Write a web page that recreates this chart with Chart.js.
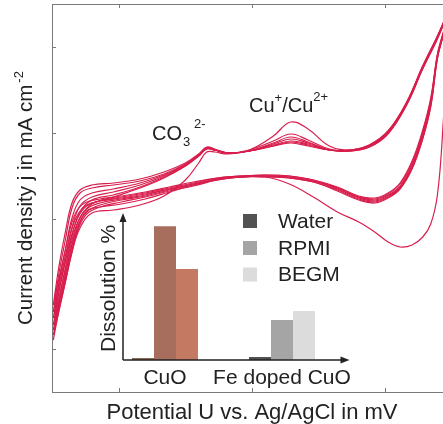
<!DOCTYPE html>
<html>
<head>
<meta charset="utf-8">
<script src="https://cdn.jsdelivr.net/npm/chart.js@4.4.1/dist/chart.umd.min.js"></script>
<style>
  html, body { margin: 0; padding: 0; background: #fff; overflow: hidden; }
  #wrap { position: relative; width: 443px; height: 424px; }
  #cv { position: absolute; left: 0; top: 0; }
  #inset { position: absolute; left: 90px; top: 205px; }
</style>
</head>
<body>
<div id="wrap">
  <canvas id="cv" width="443" height="424"></canvas>
  <canvas id="inset" width="275" height="190"></canvas>
</div>
<script>
// potential sweep in mV (anodic to the right vertex, then back)
var potential = [-745,-725,-700,-675,-645,-600,-520,-420,-330,-250,-200,-170,-140,-90,-10,80,145,210,290,370,440,510,580,640,690,735,
                 715,695,670,640,600,555,510,460,400,320,230,140,50,-40,-130,-220,-310,-400,-490,-570,-620,-650,-675,-700,-725,-745];

// current density j, one array per cycle
var cycle1 = [-1.21,-0.93,-0.63,-0.33,-0.09,0.06,0.09,0.14,0.23,0.39,0.56,0.67,0.67,0.65,0.69,0.83,0.97,0.90,0.73,0.69,0.73,0.86,1.15,1.51,1.78,2.04,
              0.89,0.24,-0.05,-0.18,-0.26,-0.28,-0.23,-0.13,-0.03,0.07,0.22,0.35,0.42,0.42,0.39,0.34,0.27,0.20,0.15,0.12,0.08,-0.07,-0.31,-0.61,-0.91,-1.21];
var cycle2 = [-0.93,-0.56,-0.21,0.11,0.26,0.31,0.34,0.38,0.45,0.55,0.64,0.71,0.69,0.66,0.69,0.78,0.85,0.79,0.70,0.68,0.72,0.86,1.15,1.51,1.78,2.04,
              1.83,1.63,1.19,0.87,0.56,0.35,0.25,0.20,0.22,0.31,0.38,0.42,0.43,0.42,0.40,0.35,0.30,0.25,0.21,0.18,0.14,0.06,-0.09,-0.37,-0.68,-0.93];
var cycle3 = [-0.86,-0.49,-0.13,0.16,0.29,0.34,0.36,0.40,0.47,0.56,0.65,0.72,0.70,0.66,0.68,0.76,0.82,0.77,0.69,0.68,0.72,0.85,1.14,1.50,1.77,2.04,
              1.85,1.65,1.21,0.89,0.58,0.36,0.26,0.21,0.23,0.32,0.39,0.43,0.44,0.43,0.41,0.37,0.32,0.27,0.23,0.20,0.17,0.11,-0.03,-0.31,-0.61,-0.86];
var cycle4 = [-0.99,-0.65,-0.31,0.01,0.19,0.26,0.30,0.36,0.44,0.54,0.64,0.71,0.69,0.66,0.68,0.75,0.80,0.76,0.69,0.68,0.73,0.87,1.16,1.52,1.79,2.05,
              1.84,1.64,1.17,0.85,0.54,0.33,0.24,0.19,0.22,0.31,0.39,0.43,0.44,0.43,0.41,0.36,0.31,0.26,0.22,0.18,0.13,0.03,-0.15,-0.43,-0.74,-0.99];
var cycle5 = [-1.06,-0.73,-0.41,-0.09,0.13,0.22,0.27,0.34,0.43,0.54,0.64,0.71,0.69,0.66,0.68,0.74,0.78,0.75,0.69,0.69,0.73,0.87,1.16,1.52,1.79,2.05,
              1.83,1.62,1.15,0.83,0.52,0.32,0.23,0.18,0.21,0.30,0.38,0.42,0.43,0.43,0.40,0.35,0.30,0.24,0.20,0.16,0.10,-0.01,-0.21,-0.51,-0.81,-1.06];
var cycle6 = [-1.11,-0.81,-0.49,-0.17,0.07,0.19,0.24,0.32,0.42,0.53,0.63,0.70,0.69,0.66,0.68,0.73,0.77,0.74,0.69,0.69,0.74,0.88,1.17,1.53,1.80,2.05,
              1.82,1.61,1.13,0.81,0.51,0.31,0.22,0.17,0.20,0.29,0.37,0.41,0.43,0.42,0.40,0.34,0.29,0.23,0.19,0.14,0.07,-0.05,-0.27,-0.57,-0.87,-1.11];
var cycle7 = [-1.16,-0.87,-0.56,-0.25,0.01,0.15,0.22,0.31,0.41,0.53,0.63,0.70,0.69,0.66,0.68,0.73,0.76,0.73,0.69,0.69,0.74,0.88,1.17,1.53,1.80,2.05,
              1.82,1.60,1.12,0.80,0.50,0.30,0.21,0.16,0.19,0.28,0.37,0.41,0.42,0.42,0.39,0.33,0.28,0.22,0.17,0.12,0.05,-0.09,-0.33,-0.63,-0.93,-1.16];
var cycles = [cycle1, cycle2, cycle3, cycle4, cycle5, cycle6, cycle7];

var xTicks = [-500, 0, 500];
var yTicks = [-1.30, 0, 0.86, 1.72];

// inset: dissolution in %
var insetCategories = ['CuO', 'Fe doped CuO'];
var mediaNames = ['Water', 'RPMI', 'BEGM'];
var waterDissolution = [1.5, 2.2];
var rpmiDissolution = [97, 29];
var begmDissolution = [66, 35.5];

var FONT = '"Liberation Sans", Arial, Helvetica, sans-serif';
var TXT = '#222222';
var AXIS = '#7a7a7a';
var RED = '#d81e4d';

function richText(ctx, parts, x, y) {
  var cx = x;
  parts.forEach(function (p) {
    ctx.font = p.size + 'px ' + FONT;
    ctx.fillText(p.t, cx, y + (p.dy || 0));
    cx += ctx.measureText(p.t).width + (p.gap || 0);
  });
}

var cvDecor = {
  id: 'cvDecor',
  afterDraw: function (chart) {
    var ctx = chart.ctx, a = chart.chartArea;
    var sx = chart.scales.x, sy = chart.scales.y;
    ctx.save();
    // frame: top line and inward ticks
    ctx.strokeStyle = AXIS;
    ctx.lineWidth = 1;
    ctx.beginPath();
    ctx.moveTo(a.left, a.top + 0.5); ctx.lineTo(a.right, a.top + 0.5);
    xTicks.forEach(function (v) {
      var px = Math.round(sx.getPixelForValue(v)) + 0.5;
      ctx.moveTo(px, a.bottom); ctx.lineTo(px, a.bottom - 4);
      ctx.moveTo(px, a.top); ctx.lineTo(px, a.top + 4);
    });
    yTicks.forEach(function (v) {
      var py = Math.round(sy.getPixelForValue(v)) + 0.5;
      ctx.moveTo(a.left, py); ctx.lineTo(a.left + 4, py);
    });
    ctx.stroke();

    ctx.fillStyle = TXT;
    ctx.textBaseline = 'alphabetic';
    // x title
    ctx.font = '22px ' + FONT;
    ctx.textAlign = 'center';
    ctx.fillText('Potential U vs. Ag/AgCl in mV', 252, 419);
    ctx.textAlign = 'left';
    // y title
    ctx.save();
    ctx.translate(32, 325);
    ctx.rotate(-Math.PI / 2);
    richText(ctx, [{t: 'Current density j in mA cm', size: 20.5, gap: 2}, {t: '-2', size: 13, dy: -9}], 0, 0);
    ctx.restore();
    // peak labels
    richText(ctx, [{t: 'CO', size: 20, gap: 1}, {t: '3', size: 13, dy: 6}], 152, 140);
    richText(ctx, [{t: '2-', size: 13}], 194, 128);
    richText(ctx, [{t: 'Cu', size: 20}, {t: '+', size: 13, dy: -10}, {t: '/Cu', size: 20}, {t: '2+', size: 13, dy: -11}], 249, 112);
    ctx.restore();
  }
};

new Chart(document.getElementById('cv'), {
  type: 'scatter',
  data: {
    datasets: cycles.map(function (c, k) {
      return {
        label: 'cycle ' + (k + 1),
        data: potential.map(function (e, i) { return {x: e, y: c[i]}; }),
        showLine: true,
        borderColor: RED,
        borderWidth: 1.2,
        pointRadius: 0,
        tension: 0.4,
        fill: false
      };
    })
  },
  options: {
    responsive: false,
    animation: false,
    layout: {padding: {left: 52, top: 4, right: 0, bottom: 32}},
    plugins: {legend: {display: false}, tooltip: {enabled: false}},
    scales: {
      x: {
        type: 'linear', min: -750, max: 716,
        grid: {display: false, drawTicks: false},
        ticks: {display: false},
        border: {display: true, color: AXIS, width: 1},
        afterBuildTicks: function (s) { s.ticks = xTicks.map(function (v) { return {value: v}; }); },
        afterFit: function (s) { s.height = 0; }
      },
      y: {
        type: 'linear', min: -1.73, max: 2.15,
        grid: {display: false, drawTicks: false},
        ticks: {display: false},
        border: {display: true, color: AXIS, width: 1},
        afterBuildTicks: function (s) { s.ticks = yTicks.map(function (v) { return {value: v}; }); },
        afterFit: function (s) { s.width = 0; }
      }
    }
  },
  plugins: [cvDecor]
});

// ---------- inset ----------
var insetDecor = {
  id: 'insetDecor',
  afterDraw: function (chart) {
    var ctx = chart.ctx, a = chart.chartArea;
    var axisX = a.left + 16.5;
    ctx.save();
    ctx.strokeStyle = '#222';
    ctx.fillStyle = '#222';
    ctx.lineWidth = 1.5;
    ctx.beginPath();
    ctx.moveTo(axisX, a.bottom); ctx.lineTo(axisX, a.top - 2);
    ctx.moveTo(axisX, a.bottom); ctx.lineTo(a.right + 2, a.bottom);
    ctx.stroke();
    ctx.beginPath();
    ctx.moveTo(axisX, a.top - 9); ctx.lineTo(axisX - 3.5, a.top); ctx.lineTo(axisX + 3.5, a.top); ctx.closePath();
    ctx.moveTo(a.right + 9, a.bottom); ctx.lineTo(a.right, a.bottom - 3.5); ctx.lineTo(a.right, a.bottom + 3.5); ctx.closePath();
    ctx.fill();

    ctx.fillStyle = TXT;
    ctx.textBaseline = 'alphabetic';
    ctx.save();
    ctx.translate(25, 147);
    ctx.rotate(-Math.PI / 2);
    ctx.font = '21px ' + FONT;
    ctx.fillText('Dissolution %', 0, 0);
    ctx.restore();

    // legend
    ctx.textBaseline = 'middle';
    ctx.font = '21px ' + FONT;
    var rows = [16, 43, 69.5];
    chart.data.datasets.forEach(function (ds, i) {
      ctx.fillStyle = ds.backgroundColor[1];
      ctx.fillRect(153, rows[i] - 7, 14, 14);
      ctx.fillStyle = TXT;
      ctx.fillText(ds.label, 188, rows[i] + 1);
    });
    ctx.restore();
  }
};

new Chart(document.getElementById('inset'), {
  type: 'bar',
  data: {
    labels: insetCategories,
    datasets: [
      {label: mediaNames[0], data: waterDissolution, backgroundColor: ['#8b6a4f', '#525252']},
      {label: mediaNames[1], data: rpmiDissolution, backgroundColor: ['#a76e5d', '#a5a5a5']},
      {label: mediaNames[2], data: begmDissolution, backgroundColor: ['#c47962', '#dcdcdc']}
    ]
  },
  options: {
    responsive: false,
    animation: false,
    layout: {padding: {left: 16.5, top: 17, right: 24.5, bottom: 0}},
    plugins: {legend: {display: false}, tooltip: {enabled: false}},
    datasets: {bar: {barPercentage: 1, categoryPercentage: 0.564, borderWidth: 0}},
    scales: {
      x: {
        grid: {display: false, drawTicks: false},
        border: {display: false},
        ticks: {font: {family: FONT, size: 21}, color: TXT, padding: 6, maxRotation: 0, minRotation: 0, autoSkip: false},
        afterFit: function (s) { s.height = 35; }
      },
      y: {min: 0, max: 100, display: false}
    }
  },
  plugins: [insetDecor]
});
</script>
</body>
</html>
